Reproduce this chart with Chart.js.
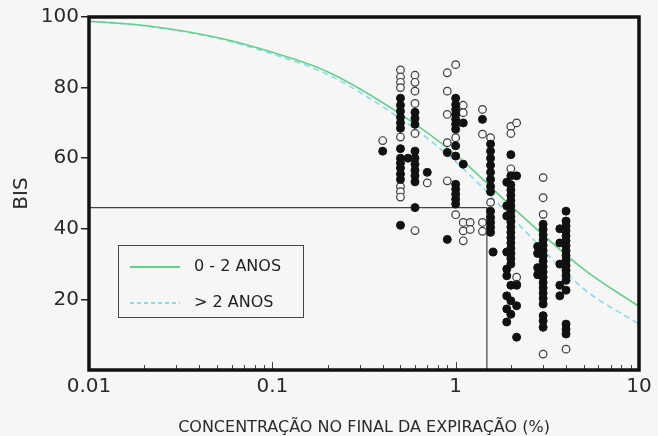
<!DOCTYPE html>
<html>
<head>
<meta charset="utf-8">
<script src="https://cdn.jsdelivr.net/npm/chart.js@4.4.1/dist/chart.umd.min.js"></script>
<style>
  html, body { margin: 0; padding: 0; background: #f6f6f6; }
  #wrap { width: 658px; height: 436px; }
</style>
</head>
<body>
<div id="wrap"><canvas id="bisChart"></canvas></div>
<script>
// concentration columns (%), one entry per column of measurements
const columnConc = [0.4, 0.5, 0.55, 0.6, 0.7, 0.9, 1.0, 1.1, 1.2, 1.4, 1.55, 1.6, 1.9, 2.0, 2.15, 2.8, 3.0, 3.7, 4.0];

// BIS values of filled markers, per column
const filledByColumn = [
  [62],
  [77, 75, 73.3, 71.6, 70, 68.5, 62.7, 60, 58.6, 57.2, 55.5, 54, 41],
  [60],
  [73, 71.3, 69.6, 62, 60, 58.3, 56.6, 55, 53.3, 46],
  [56],
  [61.6, 37],
  [77, 75.2, 73.8, 72.4, 71, 69.6, 68.2, 63.5, 60.6, 52.6, 51.2, 49.8, 48.4, 47],
  [70, 58.3],
  [],
  [71],
  [64, 62, 60, 58, 56, 54, 52, 50.5, 45, 43.2, 41.8, 40.4, 39],
  [33.4],
  [53.2, 46.5, 43.6, 33.4, 28.6, 26.7, 21, 17.3, 13.6],
  [61, 55, 52.5, 51, 49.5, 48, 46.5, 45, 43.5, 42, 40.5, 39, 37.5, 36, 34.5, 33, 31.5, 30, 24, 19.6, 15.8],
  [55, 24, 18.2, 9.3],
  [35, 33, 29, 27],
  [41.3, 39.8, 38.3, 36.8, 35.3, 33.8, 32.3, 30.8, 29.3, 27.8, 26.3, 24.8, 23.3, 21.8, 20.3, 18.7, 15.4, 13.9, 12.1],
  [40, 36, 30, 24, 21],
  [45, 42.2, 40.8, 39.4, 38, 36.6, 35.2, 33.8, 32.4, 31, 29.6, 28.2, 26.8, 25.4, 22.6, 13, 11.6, 10.2]
];

// BIS values of open markers, per column
const openByColumn = [
  [65],
  [85, 83, 81.5, 80, 66, 52, 50.5, 49],
  [],
  [83.5, 81.5, 79, 75.5, 67, 39.5],
  [53],
  [84.2, 79, 72.4, 64.4, 53.6],
  [86.5, 65.8, 44],
  [75, 72.9, 41.8, 39.4, 36.6],
  [41.8, 39.8],
  [73.8, 66.8, 41.8, 39.3],
  [65.8, 47.5],
  [],
  [],
  [69, 67, 57],
  [70, 26.3, 24.3],
  [],
  [54.5, 48.8, 44.1, 4.5],
  [],
  [5.9]
];

// fitted curves
const curveConc = [0.01, 0.02, 0.05, 0.1, 0.2, 0.5, 1, 2, 5, 10];
const curveYoung = [98.8, 97.6, 94.2, 90, 84.5, 72.5, 61, 46.5, 28.5, 18];
const curveOlder = [98.8, 97.5, 94, 89.5, 83.7, 71.2, 59, 43.5, 23, 13];

// reference cut lines
const cutBIS = 46;
const cutConc = 1.48;

const xTicks = [0.01, 0.1, 1, 10];
const yTicks = [20, 40, 60, 80, 100];

const legendLabels = ['0 - 2 ANOS', '> 2 ANOS'];

function columnsToPoints(byColumn){
  let pts = [];
  byColumn.forEach(function(vals, i){
    vals.forEach(function(v){ pts.push({x: columnConc[i], y: v}); });
  });
  return pts;
}
function curvePoints(vals){
  return curveConc.map(function(c, i){ return {x: c, y: vals[i]}; });
}

const GREEN = '#62d08a';
const CYAN = '#8adbe6';

// frame, inner minor ticks and the boxed legend
const framePlugin = {
  id: 'frame',
  afterDatasetsDraw(chart){
    const ctx = chart.ctx, a = chart.chartArea, xs = chart.scales.x;
    ctx.save();
    // minor ticks on the log axis, pointing inward
    ctx.strokeStyle = '#444';
    ctx.lineWidth = 1;
    for (let d = 0.01; d < 10; d *= 10){
      for (let m = 1; m <= 9; m++){
        const px = Math.round(xs.getPixelForValue(d * m)) + 0.5;
        const len = m === 1 ? 8 : 5;
        ctx.beginPath();
        ctx.moveTo(px, a.bottom);
        ctx.lineTo(px, a.bottom - len);
        ctx.stroke();
      }
    }
    // thick frame
    ctx.strokeStyle = '#111';
    ctx.lineWidth = 3.5;
    ctx.strokeRect(a.left, a.top, a.right - a.left, a.bottom - a.top);

    // legend box
    const bx = 118, by = 245, bw = 185, bh = 72;
    ctx.fillStyle = '#f6f6f6';
    ctx.fillRect(bx, by, bw, bh);
    ctx.strokeStyle = '#444';
    ctx.lineWidth = 1;
    ctx.strokeRect(bx + 0.5, by + 0.5, bw, bh);
    const rows = [
      {y: by + 22, color: GREEN, dash: []},
      {y: by + 58, color: CYAN, dash: [4, 3]}
    ];
    ctx.font = '16px "DejaVu Sans", sans-serif';
    ctx.textBaseline = 'middle';
    rows.forEach(function(r, i){
      ctx.strokeStyle = r.color;
      ctx.lineWidth = 2;
      ctx.setLineDash(r.dash);
      ctx.beginPath();
      ctx.moveTo(bx + 12, r.y);
      ctx.lineTo(bx + 62, r.y);
      ctx.stroke();
      ctx.setLineDash([]);
      ctx.fillStyle = '#222';
      ctx.fillText(legendLabels[i], bx + 76, r.y);
    });
    ctx.restore();
  }
};

const ctx = document.getElementById('bisChart');
const chart = new Chart(ctx, {
  type: 'scatter',
  data: {
    datasets: [
      {
        label: 'filled',
        data: columnsToPoints(filledByColumn),
        backgroundColor: '#111',
        borderColor: '#111',
        pointRadius: 4,
        borderWidth: 1,
        order: 1
      },
      {
        label: 'open',
        data: columnsToPoints(openByColumn),
        backgroundColor: '#f7f7f7',
        borderColor: '#3a3a3a',
        pointRadius: 3.8,
        borderWidth: 1.2,
        order: 2
      },
      {
        label: legendLabels[0],
        data: curvePoints(curveYoung),
        showLine: true,
        borderColor: GREEN,
        borderWidth: 1.6,
        pointRadius: 0,
        cubicInterpolationMode: 'monotone',
        order: 3
      },
      {
        label: legendLabels[1],
        data: curvePoints(curveOlder),
        showLine: true,
        borderColor: CYAN,
        borderWidth: 1.6,
        borderDash: [6, 4],
        pointRadius: 0,
        cubicInterpolationMode: 'monotone',
        order: 4
      },
      {
        label: 'cut',
        data: [{x: 0.01, y: cutBIS}, {x: cutConc, y: cutBIS}, {x: cutConc, y: 0}],
        showLine: true,
        borderColor: '#444',
        borderWidth: 1.2,
        pointRadius: 0,
        tension: 0,
        order: 5
      }
    ]
  },
  options: {
    responsive: true,
    maintainAspectRatio: false,
    animation: false,
    events: [],
    layout: { padding: { left: 0, top: 17, right: 19, bottom: 0 } },
    plugins: {
      legend: { display: false },
      tooltip: { enabled: false }
    },
    scales: {
      x: {
        type: 'logarithmic',
        min: 0.01,
        max: 10,
        afterBuildTicks: function(s){ s.ticks = xTicks.map(function(v){ return {value: v}; }); },
        afterFit: function(s){ s.height = 66; },
        grid: { display: false, drawTicks: false },
        border: { display: false },
        ticks: {
          padding: 5,
          color: '#2a2a2a',
          font: { family: '"DejaVu Sans", sans-serif', size: 20 },
          maxRotation: 0,
          callback: function(v){ return String(v); }
        },
        title: {
          display: true,
          text: 'CONCENTRAÇÃO NO FINAL DA EXPIRAÇÃO (%)',
          color: '#2a2a2a',
          font: { family: '"DejaVu Sans", sans-serif', size: 16 },
          padding: { top: 2, bottom: -1 }
        }
      },
      y: {
        min: 0,
        max: 100,
        afterBuildTicks: function(s){ s.ticks = yTicks.map(function(v){ return {value: v}; }); },
        afterFit: function(s){ s.width = 89; },
        grid: { drawOnChartArea: false, drawTicks: true, tickLength: 8, color: '#222', lineWidth: 1.5 },
        border: { display: false },
        ticks: {
          padding: 2,
          color: '#2a2a2a',
          font: { family: '"DejaVu Sans", sans-serif', size: 20 }
        },
        title: {
          display: true,
          text: 'BIS',
          color: '#2a2a2a',
          font: { family: '"DejaVu Sans", sans-serif', size: 20 },
          padding: { top: 10, bottom: 0 }
        }
      }
    }
  },
  plugins: [framePlugin]
});
</script>
</body>
</html>
